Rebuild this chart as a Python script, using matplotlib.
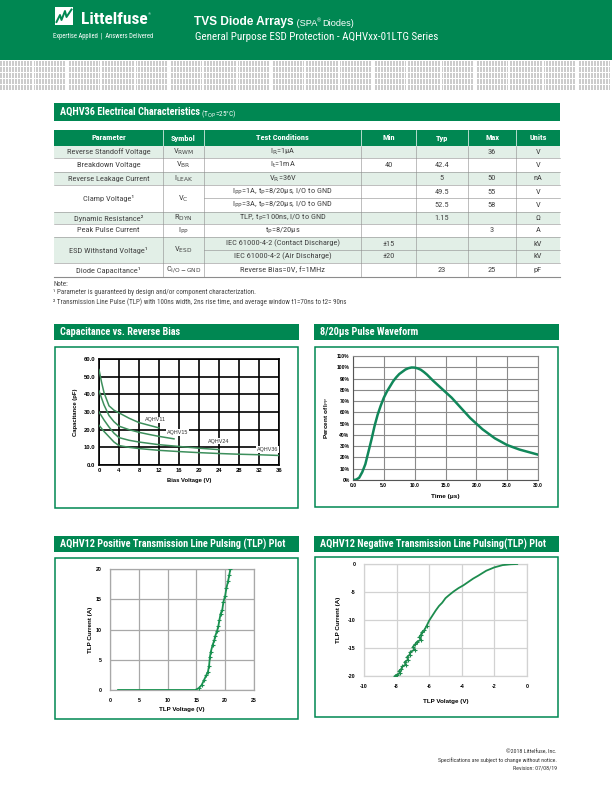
"""Littelfuse AQHVxx-01LTG datasheet page: electrical table + four characteristic plots."""

import matplotlib
matplotlib.use("Agg")
import matplotlib.pyplot as plt  # noqa: E402
import numpy as np  # noqa: E402
from matplotlib import font_manager  # noqa: E402
from matplotlib.patches import Rectangle  # noqa: E402

W, H = 612, 792
GREEN = "#008752"
SHADE = "#e2efe7"
GRID_LINE = "#a8a8a8"
TXT = "#444444"
SANS = ["Liberation Sans", "DejaVu Sans"]

# The datasheet uses a condensed face; use one if present, else Arial-metric at a smaller size.
_installed = {f.name for f in font_manager.fontManager.ttflist}
if "Roboto Condensed" in _installed:
    NARROW, CS = ["Roboto Condensed", "DejaVu Sans"], 1.0
elif "Liberation Sans Narrow" in _installed:
    NARROW, CS = ["Liberation Sans Narrow", "DejaVu Sans"], 1.0
else:
    NARROW, CS = SANS, 0.86

# ---- electrical characteristics table ----
col_names = ["Parameter", "Symbol", "Test Conditions", "Min", "Typ", "Max", "Units"]
params = ["Reverse Standoff Voltage", "Breakdown Voltage", "Reverse Leakage Current",
          "Clamp Voltage¹", "", "Dynamic Resistance²", "Peak Pulse Current",
          "ESD Withstand Voltage¹", "", "Diode Capacitance¹"]
symbols = [r"V$_{\rm RWM}$", r"V$_{\rm BR}$", r"I$_{\rm LEAK}$", r"V$_{\rm C}$", "",
           r"R$_{\rm DYN}$", r"I$_{\rm PP}$", r"V$_{\rm ESD}$", "", r"C$_{\rm I/O-GND}$"]
conditions = [r"I$_{\rm R}$=1μA", r"I$_{\rm t}$=1mA", r"V$_{\rm R}$=36V",
              r"I$_{\rm PP}$=1A, t$_{\rm P}$=8/20μs, I/O to GND",
              r"I$_{\rm PP}$=3A, t$_{\rm P}$=8/20μs, I/O to GND",
              r"TLP, t$_{\rm P}$=100ns, I/O to GND", r"t$_{\rm P}$=8/20μs",
              "IEC 61000-4-2 (Contact Discharge)", "IEC 61000-4-2 (Air Discharge)",
              "Reverse Bias=0V, f=1MHz"]
mins = ["", "40", "", "", "", "", "", "±15", "±20", ""]
typs = ["", "42.4", "5", "49.5", "52.5", "1.15", "", "", "", "23"]
maxs = ["36", "", "50", "55", "58", "", "3", "", "", "25"]
units = ["V", "V", "nA", "V", "V", "Ω", "A", "kV", "kV", "pF"]
shaded_rows = [0, 2, 5, 7, 8]
merged_rows = [3, 7]   # param/symbol cells span this row and the next

# ---- capacitance vs reverse bias ----
cap_v11 = [0, 0.5, 1, 2, 3, 4, 6, 8, 10, 12]
cap_c11 = [54, 47, 41, 33.5, 31, 29.5, 26.5, 24, 22.5, 21]
cap_v15 = [0, 0.5, 1, 2, 3, 4, 6, 8, 10, 12, 15]
cap_c15 = [42, 38, 34, 28, 24.5, 22, 20, 18.5, 17.3, 16.2, 14.8]
cap_v24 = [0, 1, 2, 3, 4, 6, 8, 12, 16, 20, 24]
cap_c24 = [30, 25.5, 21.5, 18, 15.5, 14, 13, 11.5, 10.5, 9.5, 8.7]
cap_v36 = [0, 1, 2, 3, 4, 6, 8, 12, 16, 20, 24, 28, 32, 36]
cap_c36 = [22.5, 19, 16, 13, 11, 10, 9.3, 8.3, 7.6, 7, 6.5, 6.1, 5.8, 5.4]
cap_labels = ["AQHV11", "AQHV15", "AQHV24", "AQHV36"]
cap_label_xy = [(9.2, 25.5), (13.6, 18.5), (21.8, 13.5), (31.5, 8.9)]

# ---- 8/20us pulse waveform ----
pulse_t = [0, 0.5, 1, 1.5, 2, 2.5, 3, 3.5, 4, 4.5, 5, 5.5, 6, 6.5, 7, 7.5, 8, 8.5, 9,
           9.5, 10, 10.5, 11, 11.5, 12, 13, 14, 15, 16, 17, 18, 19, 20, 21, 22, 23,
           24, 25, 26, 27, 28, 29, 30]
pulse_pct = [0, 0.3, 2, 7, 14, 25, 36, 48, 58, 66, 73, 78.5, 83, 87.5, 91, 94, 96,
             98, 99.2, 99.8, 99.7, 99, 97.8, 95.8, 93.5, 88, 83, 78, 73, 67, 61, 55,
             50, 45, 41, 37, 34, 31, 29, 27, 25.5, 24, 22.5]

# ---- AQHV12 positive TLP ----
tlp_pos_v = [1.4, 5, 10, 14.8, 15.4, 15.9, 16.3, 16.7, 17.0, 17.2, 17.35, 17.5, 17.8,
             18.1, 18.3, 18.6, 18.8, 19.0, 19.2, 19.5, 19.7, 20.0, 20.2, 20.5, 20.7, 20.9]
tlp_pos_i = [0, 0, 0, 0, 0.3, 0.8, 1.6, 2.4, 3.0, 4.0, 5.5, 6.3, 7.4, 8.2, 9.0, 9.8,
             10.5, 11.6, 12.6, 13.3, 14.6, 15.6, 16.8, 18.0, 19.0, 20.0]

# ---- AQHV12 negative TLP ----
tlp_neg_v = [-0.6, -1.0, -1.5, -2.0, -2.5, -3.0, -3.3, -3.6, -3.9, -4.2, -4.5, -4.8,
             -5.0, -5.2, -5.4, -5.6, -5.8, -6.0, -6.15, -6.3, -6.45, -6.5, -6.6, -6.5,
             -6.75, -6.85, -7.0, -6.9, -7.15, -7.2, -7.35, -7.3, -7.5, -7.45, -7.65,
             -7.7, -7.85, -7.8, -8.0, -8.1]
tlp_neg_i = [0, -0.05, -0.2, -0.6, -1.2, -2.1, -2.6, -3.2, -3.8, -4.3, -4.9, -5.6,
             -6.1, -6.9, -7.5, -8.3, -9.2, -10.1, -11.0, -11.8, -12.2, -12.6, -13.0,
             -13.5, -13.9, -14.3, -14.8, -15.3, -15.7, -16.2, -16.6, -17.1, -17.5,
             -18.0, -18.3, -18.7, -19.1, -19.5, -19.8, -20.0]


fig = plt.figure(figsize=(W / 100, H / 100), dpi=100)
page = fig.add_axes([0, 0, 1, 1])
page.set_xlim(0, W)
page.set_ylim(H, 0)
page.axis("off")


def add_axes_px(x0, y0, x1, y1):
    """Axes whose box is given in page pixels (y downwards)."""
    return fig.add_axes([x0 / W, 1 - y1 / H, (x1 - x0) / W, (y1 - y0) / H])


def rect(x0, y0, x1, y1, **kw):
    page.add_patch(Rectangle((x0, y0), x1 - x0, y1 - y0, **kw))


def ntext(x, y, s, size, **kw):
    """Text in the condensed face (size given for a true condensed font)."""
    return page.text(x, y, s, fontsize=size * CS, family=NARROW, **kw)


# ---------------- header ----------------
rect(0, 0, W, 60, color=GREEN, lw=0)
stripe = np.ones((30, W))
for r in range(30):
    if r % 6 == 5:
        continue
    for c in range(W):
        if c % 3 != 2 and c % 34 not in (32, 33):
            stripe[r, c] = 0.8
page.imshow(stripe, cmap="gray", vmin=0, vmax=1, extent=(0, W, 91, 61),
            interpolation="nearest", aspect="auto", zorder=1)

rect(55, 7, 73, 25, color="white", lw=0)
page.plot([56.5, 60, 61.5, 65, 66.5, 71.5], [22, 15, 20, 11, 17, 9.5], color=GREEN, lw=1.4)
logo = ntext(81, 23.5, "Littelfuse", 12.5, color="white", fontweight="bold",
             va="baseline", ha="left")
page.annotate("®", xy=(1, 0.8), xycoords=logo, color="white", fontsize=3, family=SANS,
              va="center", ha="left")
ntext(53, 36, "Expertise Applied  |  Answers Delivered", 4.7, color="white",
      va="center", ha="left")

t1 = page.text(194, 25, "TVS Diode Arrays", color="white", fontsize=8.6,
               fontweight="bold", family=SANS, va="baseline", ha="left")
t2 = page.annotate(" (SPA", xy=(1, 0), xycoords=t1, color="white", fontsize=6.6,
                   family=SANS, va="bottom", ha="left")
page.annotate("®", xy=(1, 0.55), xycoords=t2, color="white", fontsize=4,
              family=SANS, va="bottom", ha="left")
page.annotate("Diodes)", xy=(1, 0), xycoords=t2, color="white", fontsize=6.6,
              family=SANS, va="bottom", ha="left", xytext=(4, 0),
              textcoords="offset points")
ntext(195, 37, "General Purpose ESD Protection - AQHVxx-01LTG Series", 7.9,
      color="white", va="center", ha="left")

# ---------------- table ----------------
rect(54, 103, 560, 121, color=GREEN, lw=0)
tt = ntext(60, 112, "AQHV36 Electrical Characteristics", 7.4, color="white",
           fontweight="bold", va="center")
page.annotate(r" (T$_{\rm OP}$=25°C)", xy=(1, 0.3), xycoords=tt, color="white",
              fontsize=5.2 * CS, family=NARROW, va="center")

col_edges = [54, 163, 204, 361, 416, 468, 516, 560]
row_edges = [146, 158, 172, 185, 198, 212, 224, 237, 250, 263, 277]
rect(54, 130, 560, 146, color=GREEN, lw=0)
for k, name in enumerate(col_names):
    xc = (col_edges[k] + col_edges[k + 1]) / 2
    ntext(xc, 138, name, 6.0, color="white", fontweight="bold", ha="center", va="center")
for x in col_edges[1:-1]:
    page.plot([x, x], [130, 146], color="white", lw=0.5)

for i in range(len(params)):
    y0, y1 = row_edges[i], row_edges[i + 1]
    if i in shaded_rows:
        rect(54, y0, 560, y1, color=SHADE, lw=0)
    yc = (y0 + y1) / 2
    cells = [params[i], symbols[i], conditions[i], mins[i], typs[i], maxs[i], units[i]]
    for k, val in enumerate(cells):
        if not val:
            continue
        ym = yc
        if k < 2 and i in merged_rows:
            ym = (y0 + row_edges[i + 2]) / 2
        xc = (col_edges[k] + col_edges[k + 1]) / 2
        ntext(xc, ym, val, 6.0, color=TXT, ha="center", va="center")
    x_start = 204 if i in merged_rows else 54
    lw = 0.8 if i == len(params) - 1 else 0.4
    page.plot([x_start, 560], [y1, y1], color="#8c8c8c", lw=lw)
for x in col_edges[1:-1]:
    page.plot([x, x], [146, 277], color="#8c8c8c", lw=0.4)

ntext(53, 285, "Note:", 5.0, color=TXT, va="center")
ntext(53, 293, "¹ Parameter is guaranteed by design and/or component characterization.",
      5.0, color=TXT, va="center")
ntext(53, 302, "² Transmission Line Pulse (TLP) with 100ns width, 2ns rise time, "
      "and average window t1=70ns to t2= 90ns", 5.0, color=TXT, va="center")


# ---------------- chart panels ----------------
def panel(x0, x1, y_bar, y_box0, y_box1, title):
    rect(x0, y_bar, x1, y_bar + 16, color=GREEN, lw=0)
    ntext(x0 + 6, y_bar + 8, title, 7.4, color="white", fontweight="bold", va="center")
    rect(x0 + 0.5, y_box0, x1 - 1, y_box1, fill=False, edgecolor=GREEN, lw=1.1)


panel(54, 299, 324, 347, 508, "Capacitance vs. Reverse Bias")
panel(314, 559, 324, 347, 507, "8/20μs Pulse Waveform")
panel(54, 299, 536, 558, 719, "AQHV12 Positive Transmission Line Pulsing (TLP) Plot")
panel(314, 559, 536, 557, 717, "AQHV12 Negative Transmission Line Pulsing(TLP) Plot")

tick_font = {"family": SANS, "fontsize": 4.2, "fontweight": "bold"}

# (a) capacitance vs reverse bias
ax = add_axes_px(99, 359, 279, 465)
curve_green = "#3d8f5c"
for v, c in [(cap_v11, cap_c11), (cap_v15, cap_c15), (cap_v24, cap_c24), (cap_v36, cap_c36)]:
    ax.plot(v, c, color=curve_green, lw=1.1, zorder=3)
for name, (lx, ly) in zip(cap_labels, cap_label_xy):
    ax.text(lx, ly, name, fontsize=3.9, family=SANS, color="#333333", va="center",
            zorder=4, bbox=dict(facecolor="white", edgecolor="none", pad=0.6))
ax.set_xlim(0, 36)
ax.set_ylim(0, 60)
ax.set_xticks(range(0, 37, 4))
ax.set_yticks(range(0, 61, 10))
ax.set_yticklabels([f"{v:.1f}" for v in range(0, 61, 10)], **tick_font)
ax.set_xticklabels([str(v) for v in range(0, 37, 4)], **tick_font)
ax.grid(True, color="black", lw=1.2)
for s in ax.spines.values():
    s.set_color("black")
    s.set_linewidth(1.2)
ax.tick_params(length=0, pad=2.5)
ax.set_xlabel("Bias Voltage (V)", **tick_font, labelpad=3)
ax.set_ylabel("Capacitance (pF)", **tick_font, labelpad=4)

# (b) 8/20us pulse waveform
ax = add_axes_px(353, 356, 538, 480)
ax.plot(pulse_t, pulse_pct, color="#11875a", lw=1.8, zorder=3)
ax.set_xlim(0, 30)
ax.set_ylim(0, 110)
ax.set_xticks(range(0, 31, 5))
ax.set_xticklabels([f"{v:.1f}" for v in range(0, 31, 5)], **dict(tick_font, fontsize=3.6))
ax.set_yticks(range(0, 111, 10))
ax.set_yticklabels([f"{v}%" for v in range(0, 111, 10)], **dict(tick_font, fontsize=3.6))
ax.grid(True, color="#8a8a8a", lw=0.8)
for s in ax.spines.values():
    s.set_color("#8a8a8a")
    s.set_linewidth(0.8)
ax.spines["left"].set_color("#555555")
ax.spines["bottom"].set_color("#555555")
ax.tick_params(length=0, pad=2.5)
ax.set_xlabel("Time (μs)", **dict(tick_font, fontsize=4.6), labelpad=4)
ax.set_ylabel(r"Percent of I$_{\rm PP}$", **dict(tick_font, fontsize=4.6), labelpad=4)

# (c) AQHV12 positive TLP
ax = add_axes_px(110, 569, 254, 690)
ax.plot(tlp_pos_v, tlp_pos_i, color="#199150", lw=1.3, zorder=3)
ax.plot(tlp_pos_v[4:], tlp_pos_i[4:], ls="none", marker="+", ms=2.6, mew=0.8,
        color="#199150", zorder=3)
ax.set_xlim(0, 25)
ax.set_ylim(0, 20)
ax.set_xticks(range(0, 26, 5))
ax.set_yticks(range(0, 21, 5))
ax.set_xticklabels([str(v) for v in range(0, 26, 5)], **dict(tick_font, fontsize=3.8))
ax.set_yticklabels([str(v) for v in range(0, 21, 5)], **dict(tick_font, fontsize=3.8))
ax.grid(True, color=GRID_LINE, lw=0.9)
for s in ax.spines.values():
    s.set_color(GRID_LINE)
    s.set_linewidth(0.9)
ax.tick_params(length=0, pad=6)
ax.set_xlabel("TLP Voltage (V)", **dict(tick_font, fontsize=4.5), labelpad=3)
ax.set_ylabel("TLP Current (A)", **dict(tick_font, fontsize=4.5), labelpad=2)

# (d) AQHV12 negative TLP
ax = add_axes_px(364, 564, 527, 676)
ax.plot(tlp_neg_v, tlp_neg_i, color="#1d8c4e", lw=1.3, zorder=3)
ax.plot(tlp_neg_v[18:], tlp_neg_i[18:], ls="none", marker="+", ms=2.6, mew=0.8,
        color="#1d8c4e", zorder=3)
ax.set_xlim(-10, 0)
ax.set_ylim(-20, 0)
ax.set_xticks(range(-10, 1, 2))
ax.set_yticks(range(-20, 1, 5))
ax.set_xticklabels([str(v) for v in range(-10, 1, 2)], **dict(tick_font, fontsize=3.8))
ax.set_yticklabels([str(v) for v in range(-20, 1, 5)], **dict(tick_font, fontsize=3.8))
ax.grid(True, color="#d2d2d2", lw=0.9)
for s in ax.spines.values():
    s.set_color("#d2d2d2")
    s.set_linewidth(0.9)
ax.tick_params(length=0, pad=6)
ax.set_xlabel("TLP Volatge (V)", **dict(tick_font, fontsize=4.5), labelpad=7)
ax.set_ylabel("TLP Current (A)", **dict(tick_font, fontsize=4.5), labelpad=5)

# ---------------- footer ----------------
for y, line in [(752, "©2018 Littelfuse, Inc."),
                (760, "Specifications are subject to change without notice."),
                (768, "Revision: 07/08/19")]:
    ntext(557, y, line, 4.2, color="#333333", ha="right", va="center")

fig.savefig("out.png", dpi=100)
